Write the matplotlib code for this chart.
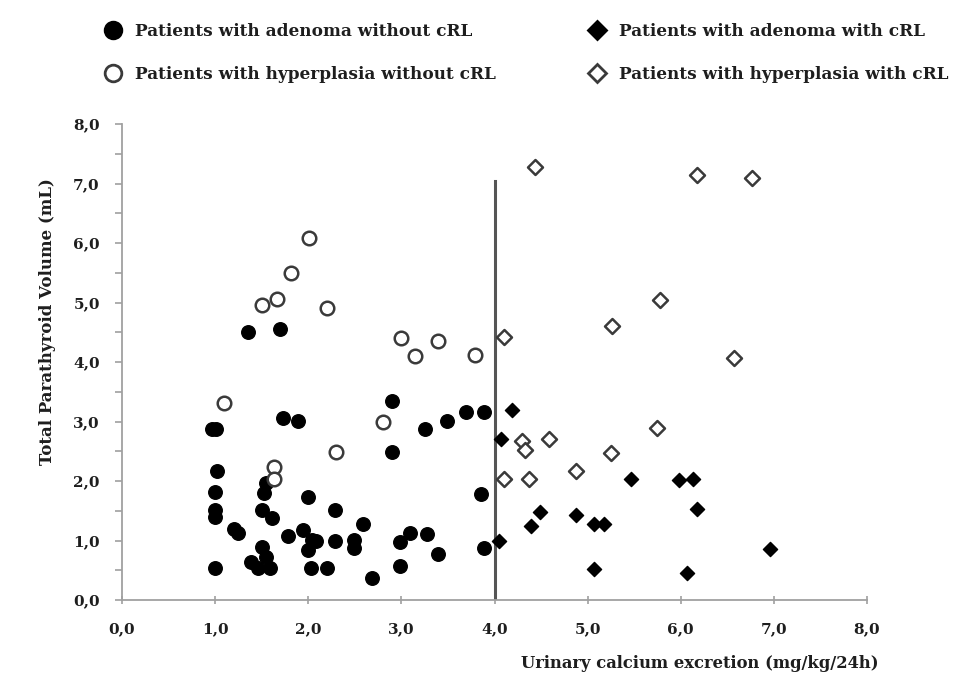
import matplotlib.pyplot as plt
from matplotlib.lines import Line2D
from matplotlib.ticker import MultipleLocator, FuncFormatter

plt.rcParams["font.family"] = ["DejaVu Serif"]
plt.rcParams["font.weight"] = "bold"

# Patients with adenoma without cRL (filled circles)
aden_no_x = [0.97, 1.01, 1.35, 1.70, 1.73, 1.89, 2.90, 2.90, 3.25, 3.49, 3.69, 3.89,
             1.02, 1.00, 1.00, 1.00, 1.20, 1.25, 1.00,
             1.55, 1.52, 1.50, 1.61, 2.00, 1.78, 1.94, 2.04, 2.00, 2.08,
             1.39, 1.50, 1.55, 1.46, 1.59, 2.03, 2.20,
             2.29, 2.59, 2.29, 2.49, 2.49, 2.68, 2.99, 3.09, 3.27, 3.39, 2.99, 3.85, 3.89]
aden_no_y = [2.87, 2.87, 4.51, 4.55, 3.06, 3.01, 3.34, 2.49, 2.87, 3.01, 3.16, 3.16,
             2.17, 1.82, 1.51, 1.40, 1.20, 1.12, 0.53,
             1.96, 1.79, 1.51, 1.37, 1.73, 1.07, 1.17, 1.01, 0.84, 1.00,
             0.64, 0.89, 0.73, 0.53, 0.53, 0.53, 0.53,
             1.52, 1.28, 0.99, 1.01, 0.87, 0.37, 0.98, 1.13, 1.11, 0.77, 0.57, 1.78, 0.88]

# Patients with adenoma with cRL (filled diamonds)
aden_crl_x = [4.19, 4.07, 4.05, 4.49, 4.39, 4.88, 5.07, 5.18, 5.47, 5.98, 6.13, 6.17, 5.07, 6.07, 6.96]
aden_crl_y = [3.20, 2.70, 1.00, 1.48, 1.25, 1.43, 1.27, 1.27, 2.03, 2.01, 2.03, 1.53, 0.52, 0.46, 0.86]

# Patients with hyperplasia without cRL (open circles)
hyper_no_x = [2.01, 1.82, 1.66, 1.50, 2.20, 3.00, 3.15, 3.39, 3.79, 1.10, 2.80, 2.30, 1.63, 1.63]
hyper_no_y = [6.08, 5.49, 5.06, 4.95, 4.90, 4.40, 4.10, 4.35, 4.11, 3.31, 3.00, 2.48, 2.24, 2.04]

# Patients with hyperplasia with cRL (open diamonds)
hyper_crl_x = [4.44, 6.17, 6.76, 5.78, 5.26, 6.57, 4.10, 4.29, 4.33, 4.59, 4.10, 4.37, 4.88, 5.25, 5.75]
hyper_crl_y = [7.28, 7.14, 7.09, 5.04, 4.61, 4.06, 4.42, 2.67, 2.52, 2.71, 2.03, 2.03, 2.17, 2.47, 2.89]

CUTOFF_X = 4.0
CUTOFF_TOP = 7.05

EDGE = "#3a3a3a"
SPINE = "#a0a0a0"
TEXT = "#1e1e1e"

fig = plt.figure(figsize=(9.71, 6.87), dpi=100)
ax = fig.add_axes([122 / 971, 1 - 600 / 687, 745 / 971, 476 / 687])

ax.scatter(aden_no_x, aden_no_y, s=95, marker="o", color="black", zorder=3)
ax.scatter(hyper_no_x, hyper_no_y, s=95, marker="o", facecolor="white",
           edgecolor=EDGE, linewidth=1.8, zorder=3)
ax.scatter(aden_crl_x, aden_crl_y, s=52, marker="D", color="black", zorder=3)
ax.scatter(hyper_crl_x, hyper_crl_y, s=58, marker="D", facecolor="white",
           edgecolor=EDGE, linewidth=1.8, zorder=3)

ax.plot([CUTOFF_X, CUTOFF_X], [0, CUTOFF_TOP], color="#555555", lw=2.2, zorder=2)

ax.set_xlim(0, 8)
ax.set_ylim(0, 8)
ax.xaxis.set_major_locator(MultipleLocator(1))
ax.yaxis.set_major_locator(MultipleLocator(1))
ax.yaxis.set_minor_locator(MultipleLocator(0.5))
comma = FuncFormatter(lambda v, p: f"{v:.1f}".replace(".", ","))
ax.xaxis.set_major_formatter(comma)
ax.yaxis.set_major_formatter(comma)

for side in ["top", "right"]:
    ax.spines[side].set_visible(False)
for side in ["left", "bottom"]:
    ax.spines[side].set_color(SPINE)
    ax.spines[side].set_linewidth(1.3)

ax.tick_params(axis="x", which="major", direction="inout", length=6, color=SPINE,
               width=1.2, pad=13, labelsize=11, labelcolor=TEXT)
ax.tick_params(axis="y", which="both", direction="out", length=5, color=SPINE,
               width=1.2, pad=11, labelsize=11, labelcolor=TEXT)
for lab in ax.get_xticklabels() + ax.get_yticklabels():
    lab.set_fontweight("bold")

fig.text(47 / 971, 1 - 322 / 687, "Total Parathyroid Volume (mL)", rotation=90,
         ha="center", va="center", fontsize=12, fontweight="bold", color=TEXT)
fig.text(878 / 971, 1 - 663 / 687, "Urinary calcium excretion (mg/kg/24h)",
         ha="right", va="center", fontsize=11.8, fontweight="bold", color=TEXT)

def handle(marker, face, ms):
    return Line2D([], [], linestyle="none", marker=marker, markersize=ms,
                  markerfacecolor=face, markeredgecolor="black" if face == "black" else EDGE,
                  markeredgewidth=2.0)

left_handles = [handle("o", "black", 12), handle("o", "white", 12)]
right_handles = [handle("D", "black", 9.5), handle("D", "white", 9.5)]
left_labels = ["Patients with adenoma without cRL", "Patients with hyperplasia without cRL"]
right_labels = ["Patients with adenoma with cRL", "Patients with hyperplasia with cRL"]

for hs, ls, x0 in [(left_handles, left_labels, 104), (right_handles, right_labels, 588)]:
    fig.legend(hs, ls, loc="center left", bbox_to_anchor=(x0 / 971, 1 - 53 / 687),
               frameon=False, handlelength=1.1, handletextpad=0.75, labelspacing=1.5,
               borderpad=0, borderaxespad=0, labelcolor=TEXT,
               prop={"weight": "bold", "size": 12.2})

fig.savefig("out.png", dpi=100)
